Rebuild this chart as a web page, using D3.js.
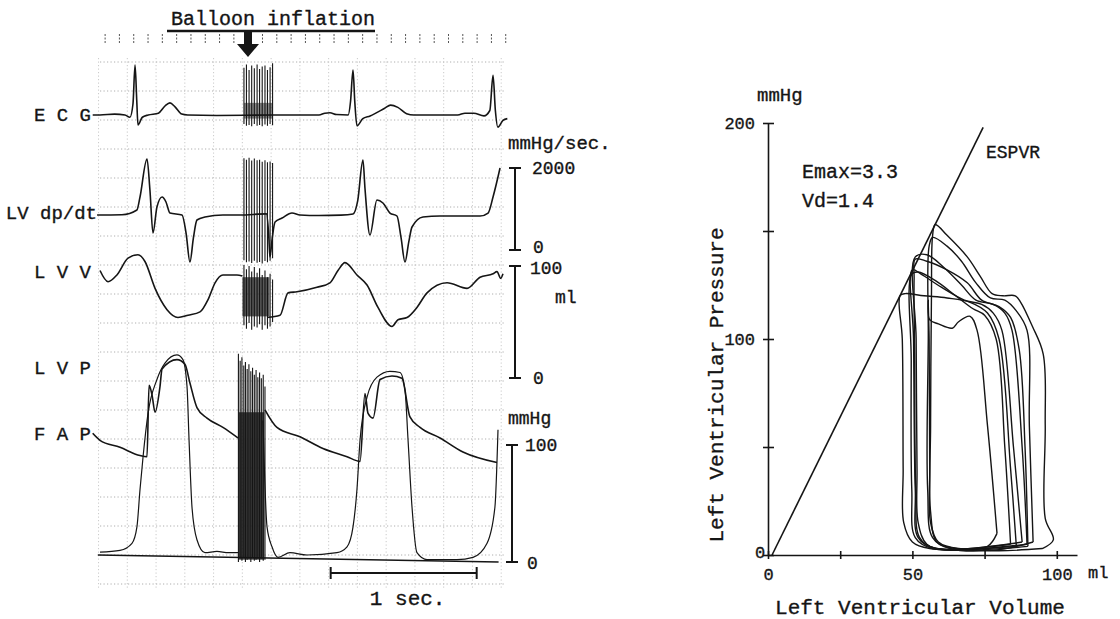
<!DOCTYPE html>
<html>
<head>
<meta charset="utf-8">
<script src="https://cdn.jsdelivr.net/npm/d3@7"></script>
<style>
  body { margin: 0; background: #fff; }
  text { font-family: "Liberation Mono", "DejaVu Sans Mono", monospace; fill: #151515; stroke: #151515; stroke-width: 0.35px; }
</style>
</head>
<body>
<svg id="fig" width="1120" height="619"></svg>
<script>
// ---- left panel: recordings, [time ms, value] ----
var ecg = [[-50,0],[0,0],[100,0.02],[171,0],[205,-0.05],[226,0.25],[240,1.11],[252,0.3],[260,-0.22],[290,-0.05],[330,0],[400,0.04],[445,0.2],[479,0.27],[514,0.18],[560,0.02],[600,0],[800,-0.01],[1190,0],[1500,0],[1540,0.04],[1575,0.05],[1620,0.01],[1700,0],[1716,0.3],[1733,1.0],[1745,0.3],[1760,-0.24],[1800,-0.08],[1850,-0.02],[1950,0.15],[1990,0.22],[2040,0.17],[2100,0.03],[2150,0],[2450,0],[2500,0.04],[2560,0.04],[2630,-0.02],[2670,0.1],[2692,0.88],[2708,0.1],[2725,-0.27],[2760,-0.12],[2790,-0.08]];

var dpdt = [[-20,854],[0,854],[150,860],[253,976],[274,1293],[322,2220],[342,1463],[363,415],[390,1049],[425,1293],[452,1171],[479,902],[562,854],[590,400],[616,-293],[640,300],[664,732],[719,805],[842,854],[959,854],[1140,880],[1155,400],[1164,-171],[1180,300],[1199,683],[1247,780],[1315,902],[1370,854],[1500,840],[1650,850],[1733,878],[1765,1200],[1801,2195],[1815,1500],[1849,366],[1897,1220],[1938,1146],[1986,902],[2034,829],[2062,300],[2089,-293],[2115,200],[2137,561],[2212,805],[2329,829],[2603,829],[2658,902],[2692,1293],[2740,2000]];

var lvvBefore = [[0,96],[55,86],[116,92],[192,107],[260,110],[308,104],[377,80],[459,61],[534,54],[603,56],[685,59],[740,70],[788,85],[842,92],[938,92],[975,91]];
var lvvAfter = [[1144,54],[1233,56],[1288,76],[1349,77],[1486,81],[1575,85],[1630,96],[1678,103],[1760,92],[1829,83],[1904,63],[2000,46],[2041,52],[2103,54],[2171,63],[2240,76],[2377,85],[2514,80],[2603,90],[2692,93],[2719,95],[2745,89],[2760,93]];

var lvpBefore = [[0,8.5],[137,10],[219,16],[253,30],[274,62],[295,90],[329,127],[390,156],[445,170],[527,177],[568,173],[596,150],[610,104],[630,47],[664,19],[719,8],[801,9],[880,8],[945,8]];
var lvpAfter = [[1116,121],[1144,30],[1178,13],[1219,4],[1301,8],[1418,6],[1623,8],[1692,13],[1733,30],[1760,62],[1781,104],[1829,141],[1897,158],[1986,163],[2055,162],[2089,147],[2110,104],[2137,47],[2171,8],[2240,2],[2445,2],[2555,4],[2651,16],[2705,47],[2726,113]];

var fapBefore = [[-50,110],[0,104],[137,98],[274,91],[322,90],[336,151],[356,143],[377,128],[411,150],[425,165],[527,173],[582,169],[616,153],[664,132],[733,123],[842,115],[945,106]];
var fapAfter = [[1130,130],[1212,115],[1370,107],[1527,97],[1692,90],[1781,86],[1815,144],[1836,127],[1870,123],[1918,156],[2000,159],[2068,157],[2123,124],[2192,115],[2329,106],[2486,94],[2719,85]];

var pressureZero = [[-15,6],[2730,0]];

// balloon inflation artefact, one entry per pen stroke
var burstTimes = [986, 1003, 1021, 1039, 1057, 1076, 1093, 1111, 1130, 1147, 1165, 1182];
var ecgBurstHi = [1.05, 1.12, 1.0, 1.1, 1.04, 1.12, 1.02, 1.08, 1.1, 1.0, 1.06, 1.15];
var ecgBurstLo = [-0.2, -0.24, -0.22, -0.25, -0.2, -0.24, -0.22, -0.25, -0.21, -0.24, -0.2, -0.23];
var dpdtBurstHi = [2240, 2200, 2250, 2180, 2230, 2190, 2200, 2150, 2190, 2140, 2160, 2120];
var dpdtBurstLo = [-250, -300, -280, -320, -260, -310, -290, -330, -270, -300, -260, -200];
var lvvBurstHi = [101, 97, 100, 95, 99, 94, 98, 92, 96, 90, 93, 88];
var lvvBurstLo = [47, 44, 49, 43, 46, 45, 48, 43, 47, 44, 46, 50];
var presBurstTimes = [948, 960, 972, 985, 996, 1008, 1020, 1033, 1045, 1057, 1069, 1081, 1093, 1105, 1118, 1130];
var presBurstHi = [178, 172, 175, 168, 171, 165, 169, 163, 166, 160, 164, 158, 162, 157, 160, 150];
var presBurstLo = [0, 3, 1, 4, 0, 2, 3, 0, 4, 1, 2, 3, 0, 3, 1, 2];

var timeMarks = d3.range(35, 2780, 98);
var secondBar = [1580, 2580];

// calibration bars
var dpdtCal = [0, 2000];
var lvvCal = [0, 100];
var presCal = [0, 100];

// ---- right panel: pressure-volume loops, [volume ml, pressure mmHg] ----
var loops = [
  [[95,3],[98.8,7],[96,17],[96,60],[95.3,93],[91.5,106],[87.5,117],[85.6,120],[81.4,120],[77.6,121],[73.5,129],[69,138],[62,148],[57.9,153],[57,148],[56.6,120],[56.3,60],[56.3,20],[58.5,6],[65,3],[80,2],[95,3]],
  [[91.8,6],[90.5,60],[89.7,104],[86,113],[82,118],[77,119],[72,126],[67,136],[62,143],[57,147],[55.8,143],[55.5,100],[55.3,30],[57,8],[63,3],[80,2.5],[91.8,6]],
  [[89.7,5],[88,50],[84.5,104],[82,112],[78,116],[72,118],[67,125],[61,133],[55,139],[51,138],[51.3,100],[51.6,40],[52,15],[55,5],[62,2.5],[89.7,5]],
  [[88,6],[85,50],[81,104],[78,112],[74,116],[68,118],[60,124],[53,130],[50,132],[50.4,100],[51,30],[52,8],[58,3],[88,6]],
  [[86,4],[84,40],[80,100],[76,112],[70,117],[62,119],[54,120],[47.5,121],[45.7,120],[46.5,100],[46.8,40],[47,15],[50,6],[56,3],[86,4]],
  [[79.3,10],[76,60],[72.4,104],[70,110.5],[66,108],[63.8,105],[59,107],[56,109],[55.5,118],[55.8,100],[56,40],[56.3,15],[59,6],[66,3],[76,4],[79.3,10]],
  [[90,4],[89,50],[87,95],[84,110],[80,115],[74,118],[69,126],[62,132],[55,136],[51,137],[50.6,128],[50.8,90],[51.2,30],[52.5,8],[58,3],[90,4]],
  [[84,5],[82,50],[79,100],[75,111],[71,114],[65,120],[58,127],[52,131],[49.8,130],[49.6,90],[49.8,30],[51,8],[57,3],[84,5]]
];
var espvr = [[1.4, 0], [74.5, 198]];

var ink = '#151515';
var svg = d3.select('#fig');

var t = d3.scaleLinear().domain([0, 2800]).range([100, 508.8]);
var yEcg = d3.scaleLinear().domain([0, 1]).range([115, 70]);
var yDpdt = d3.scaleLinear().domain([0, 2000]).range([250, 168]);
var yLvv = d3.scaleLinear().domain([0, 100]).range([378, 266]);
var yPres = d3.scaleLinear().domain([0, 100]).range([562, 445]);

// chart paper
var paper = svg.append('g')
    .attr('stroke', '#a5a5a5')
    .attr('stroke-width', 0.9)
    .attr('stroke-dasharray', '1.2,2.3');
paper.selectAll('line.h')
    .data(d3.range(19))
    .enter().append('line')
        .attr('class', 'h')
        .attr('x1', 100).attr('x2', 506)
        .attr('y1', k => 62 + 29 * k).attr('y2', k => 62 + 29 * k);
paper.selectAll('line.v')
    .data(d3.range(-10, 2800, 197))
    .enter().append('line')
        .attr('class', 'v')
        .attr('x1', d => t(d)).attr('x2', d => t(d))
        .attr('y1', 58).attr('y2', 590)
        .attr('stroke', '#c4c4c4');

// timing marks along the top
svg.append('g').selectAll('line')
    .data(timeMarks)
    .enter().append('line')
        .attr('x1', d => t(d)).attr('x2', d => t(d))
        .attr('y1', 34).attr('y2', 43)
        .attr('stroke', '#555')
        .attr('stroke-width', 1)
        .attr('stroke-dasharray', '2,1.5');

// balloon inflation marker
svg.append('text')
    .attr('x', 273).attr('y', 25)
    .attr('text-anchor', 'middle')
    .attr('font-size', 20)
    .text('Balloon inflation');
svg.append('line')
    .attr('x1', 167).attr('x2', 375).attr('y1', 31).attr('y2', 31)
    .attr('stroke', ink).attr('stroke-width', 2.5);
svg.append('path')
    .attr('d', 'M244,31 L252,31 L252,44 L259,44 L248,57 L237,44 L244,44 Z')
    .attr('fill', ink);

function trace(y) {
    return d3.line()
        .x(d => t(d[0]))
        .y(d => y(d[1]))
        .curve(d3.curveMonotoneX);
}

function drawTrace(data, y, width) {
    svg.append('path')
        .datum(data)
        .attr('d', trace(y))
        .attr('fill', 'none')
        .attr('stroke', ink)
        .attr('stroke-width', width || 1.6)
        .attr('stroke-linejoin', 'round');
}

function drawBurst(times, hi, lo, y, width) {
    svg.append('g').selectAll('line')
        .data(times)
        .enter().append('line')
            .attr('x1', d => t(d)).attr('x2', d => t(d))
            .attr('y1', (d, i) => y(hi[i]))
            .attr('y2', (d, i) => y(lo[i]))
            .attr('stroke', ink)
            .attr('stroke-width', width);
}

function drawMass(t0, t1, lo, hi, y, opacity) {
    svg.append('rect')
        .attr('x', t(t0)).attr('width', t(t1) - t(t0))
        .attr('y', y(hi)).attr('height', y(lo) - y(hi))
        .attr('fill', '#222')
        .attr('opacity', opacity);
}

// artefact blocks under the pen strokes
drawMass(986, 1182, -0.08, 0.27, yEcg, 0.55);
drawMass(975, 1160, 55, 90, yLvv, 0.75);
drawMass(948, 1125, 2, 128, yPres, 0.85);

drawTrace(ecg, yEcg);
drawTrace(dpdt, yDpdt);
drawTrace(lvvBefore, yLvv);
drawTrace(lvvAfter, yLvv);
drawTrace(lvpBefore, yPres, 1.2);
drawTrace(lvpAfter, yPres, 1.2);
drawTrace(fapBefore, yPres);
drawTrace(fapAfter, yPres);
svg.append('path')
    .datum(pressureZero)
    .attr('d', d3.line().x(d => t(d[0])).y(d => yPres(d[1])))
    .attr('stroke', ink).attr('stroke-width', 1.6);

drawBurst(burstTimes, ecgBurstHi, ecgBurstLo, yEcg, 1.1);
drawBurst(burstTimes, dpdtBurstHi, dpdtBurstLo, yDpdt, 1.1);
drawBurst(burstTimes, lvvBurstHi, lvvBurstLo, yLvv, 1.1);
drawBurst(presBurstTimes, presBurstHi, presBurstLo, yPres, 1.1);

// channel labels
var channels = [
    { name: 'E C G', x: 91, y: 121 },
    { name: 'LV dp/dt', x: 97, y: 219 },
    { name: 'L V V', x: 91, y: 278 },
    { name: 'L V P', x: 91, y: 374 },
    { name: 'F A P', x: 91, y: 440 }
];
svg.selectAll('text.channel')
    .data(channels)
    .enter().append('text')
        .attr('class', 'channel')
        .attr('x', d => d.x).attr('y', d => d.y)
        .attr('text-anchor', 'end')
        .attr('font-size', 19)
        .text(d => d.name);

// calibration bars
function calBar(y, x, range) {
    var g = svg.append('g').attr('stroke', ink).attr('stroke-width', 2);
    g.append('line').attr('x1', x).attr('x2', x).attr('y1', y(range[0])).attr('y2', y(range[1]));
    g.selectAll('line.cap')
        .data(range)
        .enter().append('line')
            .attr('class', 'cap')
            .attr('x1', x - 6).attr('x2', x + 6)
            .attr('y1', d => y(d)).attr('y2', d => y(d));
}
calBar(yDpdt, 515, dpdtCal);
calBar(yLvv, 515, lvvCal);
calBar(yPres, 512, presCal);

function label(x, y, s, size) {
    return svg.append('text').attr('x', x).attr('y', y).attr('font-size', size || 18).text(s);
}
label(508, 149, 'mmHg/sec.', 19);
label(532, yDpdt(dpdtCal[1]) + 6, dpdtCal[1]);
label(533, yDpdt(dpdtCal[0]) + 3, dpdtCal[0]);
label(530, yLvv(lvvCal[1]) + 8, lvvCal[1]);
label(555, 303, 'ml');
label(533, yLvv(lvvCal[0]) + 6, lvvCal[0]);
label(508, 424, 'mmHg');
label(525, yPres(presCal[1]) + 6, presCal[1]);
label(527, yPres(presCal[0]) + 7, presCal[0]);

// 1 sec. bar
var sec = svg.append('g').attr('stroke', ink).attr('stroke-width', 2);
sec.append('line').attr('x1', t(secondBar[0])).attr('x2', t(secondBar[1])).attr('y1', 573).attr('y2', 573);
sec.selectAll('line.cap')
    .data(secondBar)
    .enter().append('line')
        .attr('class', 'cap')
        .attr('x1', d => t(d)).attr('x2', d => t(d))
        .attr('y1', 567).attr('y2', 579);
svg.append('text')
    .attr('x', (t(secondBar[0]) + t(secondBar[1])) / 2 + 4).attr('y', 605)
    .attr('text-anchor', 'middle')
    .attr('font-size', 21)
    .text('1 sec.');

// ---- PV loop panel ----
var pvX = d3.scaleLinear().domain([0, 107]).range([768, 1077]);
var pvY = d3.scaleLinear().domain([0, 200]).range([555, 123]);

var xAxis = svg.append('g')
    .attr('transform', 'translate(0,555)')
    .call(d3.axisBottom(pvX)
        .tickValues([0, 25, 50, 75, 100])
        .tickSize(4).tickSizeOuter(0).tickPadding(9)
        .tickFormat(d => d % 50 === 0 ? d : ''));
xAxis.selectAll('.tick line').attr('y1', -4);

var yAxis = svg.append('g')
    .attr('transform', 'translate(768,0)')
    .call(d3.axisLeft(pvY)
        .tickValues([0, 50, 100, 150, 200])
        .tickSize(5).tickSizeOuter(0).tickPadding(8)
        .tickFormat(d => d % 100 === 0 && d > 0 ? d : ''));
yAxis.selectAll('.tick line').attr('x1', 6);

[xAxis, yAxis].forEach(a => {
    a.attr('font-family', null).attr('font-size', 17).attr('color', ink);
    a.select('.domain').attr('stroke-width', 1.6);
    a.selectAll('.tick line').attr('stroke-width', 1.6);
});
svg.append('text').attr('x', 755).attr('y', 558).attr('font-size', 17).text('0');
svg.append('text').attr('x', 1088).attr('y', 578).attr('font-size', 17).text('ml');
svg.append('text').attr('x', 757).attr('y', 101).attr('font-size', 19).text('mmHg');

svg.append('text')
    .attr('transform', 'translate(723,385) rotate(-90)')
    .attr('text-anchor', 'middle')
    .attr('font-size', 21)
    .text('Left Ventricular Pressure');
svg.append('text')
    .attr('x', 920).attr('y', 614)
    .attr('text-anchor', 'middle')
    .attr('font-size', 21)
    .text('Left Ventricular Volume');

svg.append('text').attr('x', 802).attr('y', 178).attr('font-size', 20).text('Emax=3.3');
svg.append('text').attr('x', 802).attr('y', 207).attr('font-size', 20).text('Vd=1.4');
svg.append('text').attr('x', 986).attr('y', 158).attr('font-size', 18).text('ESPVR');

svg.append('path')
    .datum(espvr)
    .attr('d', d3.line().x(d => pvX(d[0])).y(d => pvY(d[1])))
    .attr('stroke', ink).attr('stroke-width', 1.6);

var loopLine = d3.line()
    .x(d => pvX(d[0]))
    .y(d => pvY(d[1]))
    .curve(d3.curveCatmullRom.alpha(0.5));

svg.append('g').selectAll('path')
    .data(loops)
    .enter().append('path')
        .attr('d', loopLine)
        .attr('fill', 'none')
        .attr('stroke', ink)
        .attr('stroke-width', 1.4)
        .attr('stroke-linejoin', 'round');
</script>
</body>
</html>
